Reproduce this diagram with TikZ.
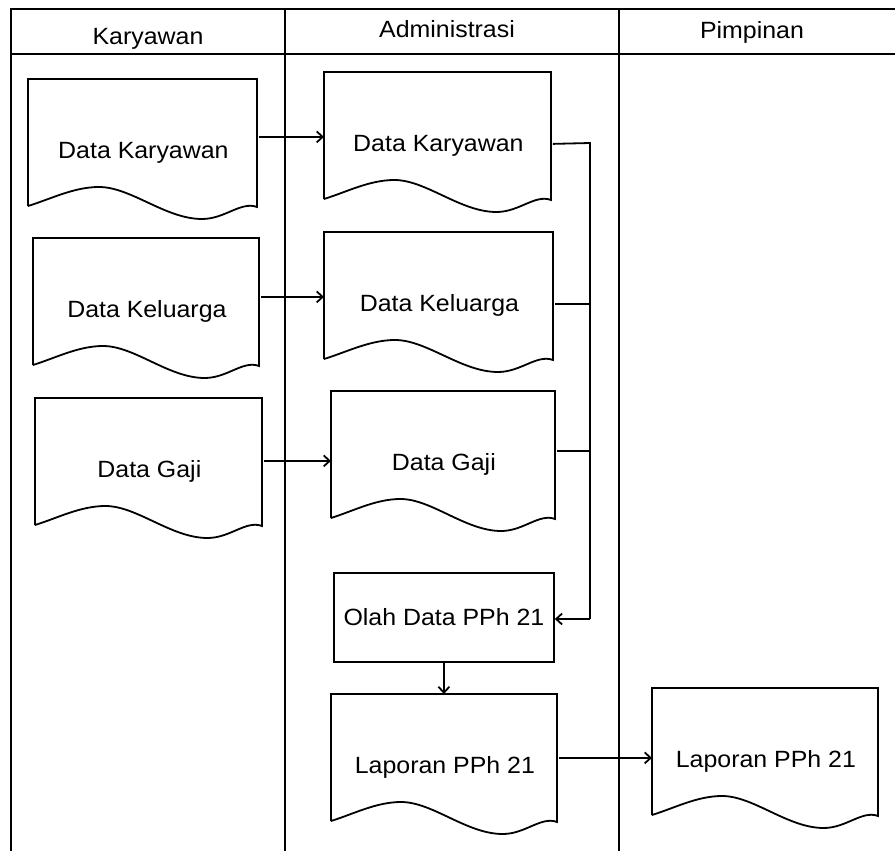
\documentclass[tikz,border=0pt]{standalone}
\usepackage{fontspec}
\setmainfont{Liberation Sans}[FakeStretch=1.06]
\usetikzlibrary{arrows.meta,calc}
\newcommand\fs{\fontsize{23.5}{26}\selectfont}
\newcommand\docout[2]{\draw[shift={(#1.north west)}] (0,127) -- (0,0) -- (#2,0) -- (#2,128)
  .. controls ({0.93*#2},122) and ({0.86*#2},140) .. ({0.76*#2},140)
  .. controls ({0.6*#2},140) and ({0.45*#2},108) .. ({0.31*#2},108)
  .. controls ({0.2*#2},108) and ({0.1*#2},120) .. (0,127);}
\begin{document}
\begin{tikzpicture}[x=1pt,y=-1pt,line width=1.8pt,
  doc/.style={anchor=north west,minimum width=#1,minimum height=140pt,inner sep=0pt,
    text height=17pt,text depth=0pt,font=\fs},
  procbox/.style={draw,anchor=north west,minimum width=220pt,minimum height=89pt,inner sep=0pt,
    text height=17pt,text depth=0pt,font=\fs},
  lanehead/.style={anchor=base,font=\fs},
  arr/.style={-{Straight Barb[length=6pt,width=11pt,line width=1.8pt]}}]
\useasboundingbox (0,0) rectangle (895,851);
% swimlane frame
\draw (895,9) -- (11,9) -- (11,851);
\draw (11,54) -- (895,54);
\draw (285,9) -- (285,851);
\draw (619,9) -- (619,851);
\node[lanehead] (hk) at (148,45) {Karyawan};
\node[lanehead] (ha) at (447,38) {Administrasi};
\node[lanehead] (hp) at (752,39) {Pimpinan};
% Karyawan lane
\node[doc=229pt] (k1) at (28,79) {Data Karyawan};
\node[doc=226pt] (k2) at (33,238) {Data Keluarga};
\node[doc=227pt] (k3) at (35,398) {Data Gaji};
% Administrasi lane
\node[doc=227pt] (a1) at (324,72) {Data Karyawan};
\node[doc=229pt] (a2) at (324,232) {Data Keluarga};
\node[doc=224pt] (a3) at (331,391) {Data Gaji};
\node[procbox] (olah) at (333,572) {Olah Data PPh 21};
\node[doc=226pt] (lap) at (331,694) {Laporan PPh 21};
% Pimpinan lane
\node[doc=226pt] (lapp) at (652,688) {Laporan PPh 21};
% document outlines
\docout{k1}{229}
\docout{k2}{226}
\docout{k3}{227}
\docout{a1}{227}
\docout{a2}{229}
\docout{a3}{224}
\docout{lap}{226}
\docout{lapp}{226}
% connectors
\draw[arr] ([yshift=13pt]k1.east) -- ([yshift=6pt]a1.west);
\draw[arr] ([yshift=12pt]k2.east) -- ([yshift=6pt]a2.west);
\draw[arr] ([yshift=8pt]k3.east) -- ([yshift=1pt]a3.west);
\coordinate (b1) at (590,143);
\coordinate (b4) at (590,619);
\draw ([yshift=-1pt]a1.east) -- (b1) -- (b4);
\draw ([yshift=-1pt]a2.east) -- ([yshift=-1pt]a2.east -| b1);
\draw ([yshift=11pt]a3.east) -- ([yshift=11pt]a3.east -| b1);
\draw[arr] (b4) -- (olah.east |- b4);
\draw[arr] (olah.south) -- (olah.south |- lap.north);
\draw[arr] ([yshift=7pt]lap.east) -- ([yshift=1pt]lapp.west);
\end{tikzpicture}
\end{document}
